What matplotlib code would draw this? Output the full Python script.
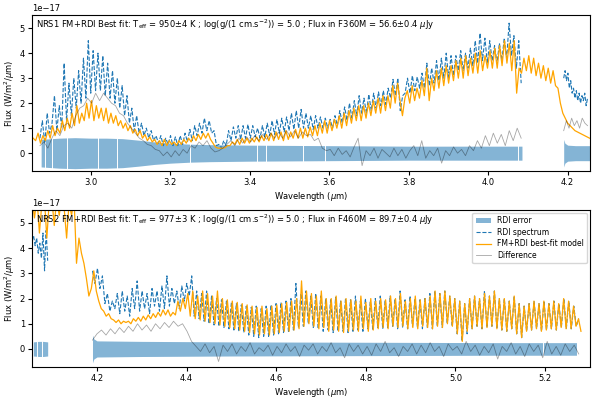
import numpy as np
import matplotlib.pyplot as plt

# ---------------- NRS1 (top) ----------------
# RDI spectrum, 2.872 -> 4.083 um, then 4.19 -> 4.25 um (units of 1e-17 W/m2/um)
spec_nrs1_a = [
    0.6, 1.3, 0.4, 1.6, 0.8, 1.2, 2.3, 0.9, 1.9, 1.0,
    3.6, 1.3, 2.8, 1.5, 3.0, 1.8, 3.3, 2.0, 3.8, 2.2,
    4.5, 2.4, 4.1, 2.5, 4.0, 2.5, 3.9, 2.3, 3.6, 2.2,
    3.3, 2.0, 3.0, 1.8, 2.7, 1.5, 2.3, 1.2, 1.8, 0.9,
    1.5, 0.8, 1.2, 0.7, 1.0, 0.6, 0.9, 0.5, 0.7, 0.4,
    0.7, 0.3, 0.6, 0.35, 0.7, 0.3, 0.65, 0.3, 0.7, 0.35,
    0.8, 0.45, 0.95, 0.5, 1.1, 0.7, 1.2, 0.8, 1.4, 0.9,
    1.3, 0.8, 0.9, 0.3, 0.35, 0.2, 0.5, 0.3, 0.9, 0.5,
    1.05, 0.6, 1.1, 0.55, 1.1, 0.6, 1.15, 0.6, 1.1, 0.65,
    1.0, 0.6, 1.1, 0.65, 1.2, 0.7, 1.3, 0.75, 1.35, 0.8,
    1.4, 0.85, 1.45, 0.9, 1.6, 0.95, 1.7, 1.0, 1.75, 1.0,
    1.6, 1.0, 1.5, 0.95, 1.5, 1.0, 1.45, 1.0, 1.4, 1.0,
    1.35, 1.0, 1.5, 1.1, 1.7, 1.2, 1.85, 1.3, 2.0, 1.4,
    2.1, 1.5, 2.3, 1.6, 2.2, 1.6, 2.35, 1.7, 2.4, 1.8,
    2.45, 1.9, 2.5, 1.95, 2.6, 2.2, 2.95, 2.3, 3.0, 1.7,
    2.3, 2.4, 3.0, 2.4, 3.1, 2.5, 3.05, 2.6, 3.2, 2.6,
    3.6, 2.7, 3.4, 2.8, 3.7, 2.9, 3.8, 3.0, 4.0, 3.0,
    3.9, 3.1, 3.9, 3.3, 4.1, 3.3, 4.0, 3.4, 4.2, 3.5,
    4.5, 3.6, 4.8, 3.7, 4.6, 3.6, 4.5, 3.7, 4.3, 3.6,
    4.4, 3.7, 4.6, 3.8, 5.2, 3.9, 4.7, 3.4, 4.5, 2.8,
]
spec_nrs1_b = [3.0, 3.3, 2.9, 3.2, 2.6, 2.9, 2.4, 2.6, 2.2, 2.5,
               2.1, 2.4, 2.0, 2.3, 2.1, 2.4, 1.9, 2.2]

# FM+RDI best-fit model, 2.855 -> 4.255 um
model_nrs1 = [
    0.6, 0.5, 0.8, 0.4, 0.7, 0.5, 0.9, 0.6, 1.1, 0.7,
    1.0, 0.8, 1.3, 0.9, 1.4, 1.0, 1.6, 1.1, 1.9, 1.2,
    1.6, 1.3, 2.0, 1.4, 2.1, 1.3, 1.9, 1.4, 1.8, 1.3,
    1.8, 1.2, 1.6, 1.2, 1.5, 1.1, 1.3, 1.0, 1.2, 0.9,
    1.1, 0.8, 0.95, 0.7, 0.9, 0.6, 0.75, 0.5, 0.65, 0.45,
    0.55, 0.35, 0.5, 0.3, 0.55, 0.3, 0.5, 0.35, 0.45, 0.3,
    0.5, 0.35, 0.55, 0.4, 0.6, 0.45, 0.7, 0.5, 0.75, 0.55,
    0.8, 0.6, 0.8, 0.55, 0.4, 0.25, 0.2, 0.2, 0.2, 0.22,
    0.3, 0.3, 0.45, 0.35, 0.55, 0.35, 0.6, 0.4, 0.6, 0.4,
    0.6, 0.45, 0.65, 0.45, 0.7, 0.5, 0.75, 0.5, 0.8, 0.5,
    0.85, 0.55, 0.85, 0.5, 0.9, 0.55, 0.85, 0.6, 0.95, 0.6,
    1.0, 0.6, 1.0, 0.65, 1.05, 0.7, 1.1, 0.7, 1.2, 0.8,
    1.3, 0.8, 1.3, 0.9, 1.35, 1.0, 1.5, 1.0, 1.6, 1.1,
    1.7, 1.2, 1.8, 1.3, 1.9, 1.3, 1.9, 1.4, 2.0, 1.5,
    2.1, 1.6, 2.2, 1.6, 2.3, 1.7, 2.3, 1.8, 2.7, 2.0,
    2.8, 2.1, 1.5, 2.2, 2.5, 2.0, 2.7, 2.1, 2.6, 2.2,
    2.9, 2.3, 3.4, 2.1, 3.0, 2.5, 3.3, 2.6, 3.4, 2.7,
    3.5, 2.8, 3.5, 2.9, 3.7, 3.0, 3.8, 3.0, 3.9, 3.1,
    3.8, 3.2, 4.0, 3.2, 4.1, 3.3, 3.9, 3.4, 4.1, 3.4,
    4.2, 3.4, 4.3, 3.5, 4.5, 3.6, 4.4, 3.3, 4.5, 2.4,
    3.4, 3.2, 3.8, 3.3, 3.9, 3.2, 3.8, 3.1, 3.6, 3.0,
    3.5, 2.9, 3.4, 2.8, 3.3, 2.7, 2.6, 2.0, 1.6, 1.4,
    1.2, 1.1, 1.0, 0.9, 0.85, 0.8, 0.75, 0.7, 0.65, 0.6,
]

# Difference, 2.872 -> 4.083 um, then 4.19 -> 4.25 um
diff_nrs1_a = [
    0.3, 0.45, 0.2, 0.6, 0.9, 0.7, 1.1, 1.2, 1.0, 1.5,
    1.8, 1.9, 2.2, 2.0, 2.4, 2.1, 2.4, 2.2, 2.0, 1.9,
    1.6, 1.5, 1.2, 1.0, 0.8, 0.6, 0.5, 0.35, 0.3, 0.15,
    0.1, -0.1, 0.05, -0.15, 0.1, -0.1, 0.15, 0.0, 0.3, 0.2,
    0.45, 0.3, 0.5, 0.2, 0.05, 0.1, 0.2, 0.35, 0.5, 0.3,
    0.6, 0.4, 0.65, 0.45, 0.7, 0.5, 0.75, 0.55, 0.8, 0.6,
    0.85, 0.6, 0.9, 0.65, 0.9, 0.6, 0.85, 0.7, 0.75, 0.5,
    0.6, 0.2, 0.1, 0.15, -0.1, 0.2, -0.05, 0.1, -0.15, 0.25,
    0.6, -0.5, 0.1, -0.1, 0.2, -0.2, 0.15, 0.0, -0.15, 0.2,
    -0.1, 0.15, -0.2, 0.1, 0.3, -0.1, 0.5, -0.2, 0.1, -0.1,
    0.2, -0.4, 0.1, -0.1, 0.25, 0.0, 0.15, -0.1, 0.3, 0.1,
    0.5, 0.2, 0.7, 0.3, 0.8, 0.4, 0.75, 0.3, 0.9, 0.5, 1.0, 0.6,
]
diff_nrs1_b = [0.9, 1.3, 1.0, 1.4, 1.1, 1.3, 1.0, 1.4, 1.2, 1.1]

# RDI error (half width)
err_nrs1_wave_a = [2.875, 2.92, 2.96, 3.0, 3.04, 3.08, 3.12, 3.16, 3.2, 3.25,
                   3.3, 3.4, 3.5, 3.6, 3.7, 3.8, 3.9, 4.0, 4.085]
err_nrs1_a = [0.55, 0.6, 0.62, 0.6, 0.6, 0.58, 0.52, 0.45, 0.4, 0.36,
              0.34, 0.32, 0.31, 0.3, 0.29, 0.28, 0.28, 0.28, 0.28]
err_nrs1_wave_b = [4.19, 4.193, 4.2, 4.22, 4.255]
err_nrs1_b = [0.55, 0.4, 0.32, 0.3, 0.3]
gaps_nrs1 = [2.885, 2.902, 2.939, 3.019, 3.065, 3.249, 3.417, 3.442, 3.534, 3.589, 4.075]

# ---------------- NRS2 (bottom) ----------------
spec_nrs2_a = [4.3, 4.5, 4.1, 4.4, 3.8, 4.2, 3.6, 4.6, 3.1, 4.7, 3.5]  # 4.055 -> 4.09
spec_nrs2_b = [  # 4.19 -> 5.275
    3.1, 2.6, 3.2, 2.4, 2.9, 1.8, 2.2, 1.5, 1.9, 1.6,
    2.2, 1.4, 2.3, 1.5, 2.1, 1.3, 2.4, 1.6, 2.7, 1.5,
    2.3, 1.6, 2.2, 1.4, 2.4, 1.7, 2.3, 1.5, 2.5, 1.6,
    2.9, 1.7, 2.4, 1.8, 2.3, 1.6, 2.5, 1.9, 2.6, 2.1,
    2.9, 1.3, 2.3, 1.2, 2.2, 1.1, 2.3, 1.0, 2.1, 0.95,
    2.0, 0.9, 1.95, 0.85, 1.9, 0.8, 1.85, 0.75, 1.8, 0.7,
    1.75, 0.65, 1.7, 0.55, 1.65, 0.5, 1.7, 0.45, 1.6, 0.5,
    1.7, 0.5, 1.75, 0.55, 1.8, 0.6, 1.85, 0.65, 1.9, 0.7,
    2.0, 0.75, 2.6, 0.85, 2.2, 0.9, 2.3, 1.0, 2.1, 0.85,
    2.2, 0.8, 2.1, 0.7, 2.0, 0.75, 1.95, 0.65, 2.05, 0.7,
    1.9, 0.7, 2.0, 0.65, 1.95, 0.7, 2.1, 0.75, 1.9, 0.7,
    2.0, 0.8, 1.9, 0.75, 2.0, 0.85, 2.1, 0.8, 1.95, 0.85,
    2.1, 0.9, 2.0, 0.8, 2.3, 0.85, 1.95, 0.8, 2.1, 0.9,
    2.0, 0.85, 1.95, 0.8, 2.0, 0.85, 2.2, 0.8, 2.3, 0.9,
    2.2, 0.85, 2.3, 1.0, 2.1, 0.9, 2.0, 0.6, 1.9, 0.3,
    1.8, 0.6, 2.0, 0.8, 2.1, 0.9, 2.0, 0.8, 2.3, 0.85,
    2.1, 0.9, 2.3, 0.8, 2.0, 0.75, 2.0, 0.7, 1.9, 0.8,
    2.1, 0.6, 1.8, 0.45, 1.7, 0.7, 1.8, 0.75, 1.9, 0.8,
    1.8, 0.7, 1.9, 0.75, 1.8, 0.8, 1.9, 0.75, 1.8, 0.85,
    2.0, 0.8, 1.9, 0.8, 1.7, 0.9, 1.2,
]

model_nrs2 = [  # 4.055 -> 5.28
    6.0, 5.2, 6.0, 4.6, 5.8, 6.0, 4.4, 5.9, 6.0, 4.9,
    6.0, 5.3, 6.0, 5.6, 4.4, 5.8, 5.3, 6.0, 3.4, 4.4,
    3.8, 3.4, 2.8, 2.1, 2.4, 3.1, 2.3, 1.9, 1.6, 1.5,
    1.3, 1.4, 1.2, 1.15, 1.05, 1.15, 1.0, 1.1, 1.05, 1.1,
    1.0, 1.2, 1.1, 1.25, 1.1, 1.3, 1.15, 1.35, 1.2, 1.4,
    1.25, 1.45, 1.3, 1.55, 1.35, 1.55, 1.3, 1.45, 1.35, 1.9,
    1.5, 2.0, 1.6, 2.2, 1.3, 2.3, 1.2, 2.1, 1.15, 2.3,
    1.1, 2.2, 1.05, 2.1, 1.0, 2.3, 0.95, 2.0, 0.9, 1.95,
    0.85, 1.9, 0.8, 1.85, 0.75, 1.8, 0.7, 1.75, 0.65, 1.7,
    0.6, 1.65, 0.55, 1.7, 0.6, 1.6, 0.55, 1.7, 0.6, 1.75,
    0.65, 1.8, 0.7, 1.85, 0.7, 1.9, 0.75, 2.0, 0.8, 2.7,
    0.9, 2.3, 1.0, 2.2, 0.9, 2.1, 0.8, 2.3, 0.85, 2.0,
    0.7, 2.0, 0.75, 2.1, 0.7, 1.9, 0.65, 2.0, 0.7, 1.95,
    0.75, 1.9, 0.7, 2.1, 0.8, 1.85, 0.7, 2.0, 0.75, 1.9,
    0.8, 2.0, 0.85, 1.95, 0.8, 2.1, 0.9, 2.0, 0.85, 2.2,
    0.9, 1.9, 0.8, 2.0, 0.85, 2.1, 0.8, 1.95, 0.9, 2.0,
    0.85, 2.1, 0.8, 2.3, 0.9, 2.2, 0.85, 2.3, 1.0, 2.1,
    0.9, 2.0, 0.6, 1.9, 0.3, 1.8, 0.7, 2.0, 0.8, 2.1,
    0.9, 2.0, 0.8, 2.2, 0.85, 2.1, 0.9, 2.3, 0.8, 2.0,
    0.75, 2.0, 0.7, 1.9, 0.8, 2.1, 0.6, 1.8, 0.45, 1.7,
    0.7, 1.8, 0.75, 1.9, 0.8, 1.8, 0.7, 1.9, 0.75, 1.8,
    0.8, 1.9, 0.75, 1.8, 0.85, 2.0, 0.8, 1.9, 0.8, 1.7,
    0.9, 1.2, 0.7,
]

diff_nrs2 = [  # 4.19 -> 5.275
    0.35, 0.6, 0.75, 0.55, 0.8, 0.6, 0.85, 0.65, 0.9,
    0.7, 1.0, 0.75, 0.95, 0.7, 1.0, 0.8, 1.05, 0.85, 1.1, 0.9, 1.0, 0.7, 0.3,
    0.1, -0.1, 0.2, -0.15, 0.1, -0.5, 0.15, -0.1, 0.2, -0.2,
    0.1, -0.1, 0.25, -0.2, 0.05, -0.1, 0.15, -0.25, 0.1, -0.15,
    0.2, -0.1, 0.1, -0.3, 0.15, -0.05, 0.2, -0.2, 0.1, -0.1,
    0.25, -0.15, 0.05, -0.35, 0.2, -0.1, 0.15, -0.2, 0.1, -0.25,
    0.2, -0.1, 0.3, -0.15, 0.05, -0.3, 0.1, -0.1, 0.2, -0.2,
    0.15, -0.15, 0.25, -0.1, 0.1, -0.3, 0.2, -0.05, 0.1, -0.2,
    0.3, -0.1, 0.15, -0.25, 0.1, -0.15, 0.2, -0.4, 0.1, -0.1,
    0.25, -0.2, 0.1, -0.3, 0.2, -0.1, 0.15, -0.35, 0.3, -0.2,
    0.1, -0.25, 0.2, -0.1, 0.15, -0.2,
]

err_nrs2_wave_a = [4.058, 4.07, 4.08, 4.09]
err_nrs2_a = [0.28, 0.3, 0.3, 0.28]
err_nrs2_wave_b = [4.19, 4.193, 4.2, 4.3, 4.5, 4.7, 4.9, 5.1, 5.27]
err_nrs2_b = [0.55, 0.4, 0.32, 0.3, 0.28, 0.27, 0.26, 0.25, 0.25]
gaps_nrs2 = [4.066, 4.077, 5.196]

titles = [
    r"NRS1 FM+RDI Best fit: T$_{\rm eff}$ = 950$\pm$4 K ; log(g/(1 cm.s$^{-2}$)) = 5.0 ; Flux in F360M = 56.6$\pm$0.4 $\mu$Jy",
    r"NRS2 FM+RDI Best fit: T$_{\rm eff}$ = 977$\pm$3 K ; log(g/(1 cm.s$^{-2}$)) = 5.0 ; Flux in F460M = 89.7$\pm$0.4 $\mu$Jy",
]

SCALE = 1e-17
ERR_COLOR = (0.122, 0.467, 0.706, 0.55)
FS = 6


def seg(lo, hi, vals):
    return np.linspace(lo, hi, len(vals)), np.array(vals) * SCALE


def draw_panel(ax, err_parts, spec_parts, model_part, diff_parts, gaps, xlim, xticks, title):
    for w, e in err_parts:
        w = np.array(w)
        e = np.array(e) * SCALE
        ax.fill_between(w, -e, e, color=ERR_COLOR, lw=0, label='RDI error')
    ax.vlines(gaps, -0.7 * SCALE, 0.7 * SCALE, color='white', lw=0.7)
    for i, (lo, hi, v) in enumerate(spec_parts):
        x, y = seg(lo, hi, v)
        ax.plot(x, y, color='#1f77b4', ls='--', lw=0.8, label='RDI spectrum' if i == 0 else None)
    x, y = seg(*model_part)
    ax.plot(x, y, color='orange', lw=0.9, label='FM+RDI best-fit model')
    for i, (lo, hi, v) in enumerate(diff_parts):
        x, y = seg(lo, hi, v)
        ax.plot(x, y, color='k', alpha=0.35, lw=0.6, label='Difference' if i == 0 else None)
    ax.set_xlim(*xlim)
    ax.set_ylim(-0.72 * SCALE, 5.52 * SCALE)
    ax.set_xticks(xticks)
    ax.set_xlabel(r'Wavelength ($\mu$m)', fontsize=FS, labelpad=2)
    ax.set_ylabel(r'Flux (W/m$^2$/$\mu$m)', fontsize=FS, labelpad=2)
    ax.tick_params(labelsize=FS, length=3, pad=2)
    ax.yaxis.get_offset_text().set_fontsize(FS)
    ax.text(0.008, 0.985, title, transform=ax.transAxes, ha='left', va='top', fontsize=FS)


fig = plt.figure(figsize=(5.98, 3.99), dpi=100)
ax1 = fig.add_axes([0.0535, 0.571, 0.933, 0.391])
ax2 = fig.add_axes([0.0535, 0.080, 0.933, 0.394])

draw_panel(ax1,
           [(err_nrs1_wave_a, err_nrs1_a), (err_nrs1_wave_b, err_nrs1_b)],
           [(2.872, 4.083, spec_nrs1_a), (4.19, 4.25, spec_nrs1_b)],
           (2.855, 4.255, model_nrs1),
           [(2.872, 4.083, diff_nrs1_a), (4.19, 4.25, diff_nrs1_b)],
           gaps_nrs1, (2.852, 4.256), [3.0, 3.2, 3.4, 3.6, 3.8, 4.0, 4.2], titles[0])

draw_panel(ax2,
           [(err_nrs2_wave_a, err_nrs2_a), (err_nrs2_wave_b, err_nrs2_b)],
           [(4.055, 4.09, spec_nrs2_a), (4.19, 5.275, spec_nrs2_b)],
           (4.055, 5.28, model_nrs2),
           [(4.19, 5.275, diff_nrs2)],
           gaps_nrs2, (4.055, 5.30), [4.2, 4.4, 4.6, 4.8, 5.0, 5.2], titles[1])

handles, labels = ax2.get_legend_handles_labels()
keep = {}
for h, l in zip(handles, labels):
    keep.setdefault(l, h)
order = ['RDI error', 'RDI spectrum', 'FM+RDI best-fit model', 'Difference']
ax2.legend([keep[k] for k in order], order, loc='upper right', fontsize=5.5,
           labelspacing=0.35, borderaxespad=0.4)

fig.savefig('out.png', dpi=100)
